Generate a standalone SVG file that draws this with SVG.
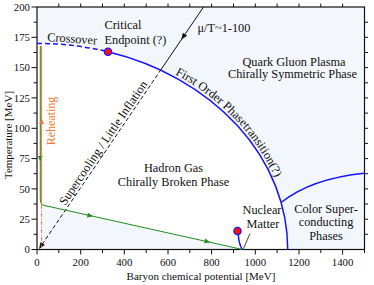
<svg xmlns="http://www.w3.org/2000/svg" width="374" height="285" viewBox="0 0 374 285">
<style>
text{font-family:"Liberation Serif","Times New Roman",serif;fill:#111}
.lbl{font-size:12.3px}
.tk{font-size:10.8px}
.ax{font-size:11px}
.mid{text-anchor:middle}
.end{text-anchor:end}
.blue{fill:none;stroke:#1414ff;stroke-width:1.5}
.tint{fill:#f3f6fb;stroke:none}
.frame{fill:none;stroke:#111;stroke-width:1.2}
.ticks{fill:none;stroke:#111;stroke-width:1}
</style>
<defs>
<path id="garrow" d="M3,0 L-2.6,-2.4 L-2.6,2.4 Z" fill="#1e8c1e"/>
<path id="oarrow" d="M3,0 L-2.6,-2.4 L-2.6,2.4 Z" fill="#f07a30"/>
<path id="karrow" d="M3.5,0 L-3,-2.6 L-3,2.6 Z" fill="#111"/>
<path id="textarc" d="M175,74.2 A253.5,209 0 0 1 290.5,249.5"/>
</defs>

<g id="background">
<path class="tint" d="M37,7 H364.5 V249.5 H287.7 A250.7,206.1 0 0 0 37,43.4 Z"/>
<path class="tint" d="M40.3,205 Q40.3,205.8 46,205.8 L242.5,249.5 L40.3,249.5 Z"/>
</g>

<g id="axes">
<rect class="frame" x="37" y="7" width="327.5" height="242.5"/>
<path class="ticks" d="M31.5,249.5H37M33.5,234.3H37M31.5,219.2H37M33.5,204H37M31.5,188.9H37M33.5,173.7H37M31.5,158.6H37M33.5,143.4H37M31.5,128.3H37M33.5,113.1H37M31.5,97.9H37M33.5,82.8H37M31.5,67.6H37M33.5,52.5H37M31.5,37.3H37M33.5,22.2H37M31.5,7H37"/>
<path class="ticks" d="M364.5,234.3H368M364.5,219.2H368M364.5,204H368M364.5,188.9H368M364.5,173.7H368M364.5,158.6H368M364.5,143.4H368M364.5,128.3H368M364.5,113.1H368M364.5,97.9H368M364.5,82.8H368M364.5,67.6H368M364.5,52.5H368M364.5,37.3H368M364.5,22.2H368"/>
<path class="ticks" d="M58.8,7V3.5M80.7,7V3.5M102.5,7V3.5M124.3,7V3.5M146.2,7V3.5M168,7V3.5M189.8,7V3.5M211.6,7V3.5M233.5,7V3.5M255.3,7V3.5M277.1,7V3.5M299,7V3.5M320.8,7V3.5M342.6,7V3.5"/>
<path class="ticks" d="M37,249.5V254.5M58.8,249.5V253M80.7,249.5V254.5M102.5,249.5V253M124.3,249.5V254.5M146.2,249.5V253M168,249.5V254.5M189.8,249.5V253M211.6,249.5V254.5M233.5,249.5V253M255.3,249.5V254.5M277.1,249.5V253M299,249.5V254.5M320.8,249.5V253M342.6,249.5V254.5M364.5,249.5V253"/>
<g class="tk end">
<text x="30" y="253.3">0</text>
<text x="30" y="223">25</text>
<text x="30" y="192.7">50</text>
<text x="30" y="162.4">75</text>
<text x="30" y="132.1">100</text>
<text x="30" y="101.7">125</text>
<text x="30" y="71.4">150</text>
<text x="30" y="41.1">175</text>
<text x="30" y="10.8">200</text>
</g>
<g class="tk mid">
<text x="37" y="266">0</text>
<text x="80.7" y="266">200</text>
<text x="124.3" y="266">400</text>
<text x="168" y="266">600</text>
<text x="211.6" y="266">800</text>
<text x="255.3" y="266">1000</text>
<text x="299" y="266">1200</text>
<text x="342.6" y="266">1400</text>
</g>
<text class="ax mid" x="201" y="279.5">Baryon chemical potential [MeV]</text>
<text class="ax mid" transform="translate(11.5,135) rotate(-90)">Temperature [MeV]</text>
</g>

<g id="connectors">
<path class="blue" stroke-dasharray="5,3" d="M37,43.4 A250.7,206.1 0 0 1 108,51.8"/>
<path class="blue" d="M108,51.8 A250.7,206.1 0 0 1 287.7,249.5"/>
<path class="blue" d="M281.1,202.5 Q311.4,178.6 364.5,173.3"/>
<path class="blue" d="M238.2,234.5 Q239,245 242.5,249.5"/>
<path fill="none" stroke="#111" stroke-width="0.8" d="M243.5,248.5 L250,233.5"/>
<path fill="none" stroke="#111" stroke-width="1" stroke-dasharray="4,2.5" d="M42,244.6 L160.6,70.2"/>
<path fill="none" stroke="#111" stroke-width="1" d="M160.6,70.2 L203.5,7"/>
<use href="#karrow" transform="translate(41,246) rotate(124.2)"/>
<use href="#karrow" transform="translate(183.3,36.7) rotate(124.2)"/>
<path fill="none" stroke="#1e8c1e" stroke-width="1" d="M40.3,46 V199 Q40.3,205.8 46,205.8 L242.5,249.5"/>
<use href="#garrow" transform="translate(40.3,158.5) rotate(90)"/>
<use href="#garrow" transform="translate(90,215.6) rotate(12.5)"/>
<use href="#garrow" transform="translate(207.3,241.5) rotate(12.5)"/>
<path fill="none" stroke="#f07a30" stroke-width="1" d="M41.6,46 V205"/>
<path fill="none" stroke="#f07a30" stroke-width="1" stroke-dasharray="4,1.5,1,1.5" d="M41.6,205 V247.5"/>
<use href="#oarrow" transform="translate(41.6,121.5) rotate(-90)"/>
</g>

<g id="critical-endpoint">
<circle cx="108" cy="51.8" r="3.6" fill="#ff1010" stroke="#1414ff" stroke-width="1.3"/>
<text class="lbl" x="104.5" y="29.3">Critical</text>
<text class="lbl" x="104.5" y="44.3">Endpoint (?)</text>
</g>

<g id="crossover">
<text class="lbl" transform="translate(47,41) rotate(4)">Crossover</text>
</g>

<g id="first-order">
<text class="lbl"><textPath href="#textarc">First Order Phasetransition(?)</textPath></text>
</g>

<g id="qgp">
<text class="lbl mid" x="294" y="65.5">Quark Gluon Plasma</text>
<text class="lbl mid" x="292.5" y="78">Chirally Symmetric Phase</text>
</g>

<g id="hadron-gas">
<text class="lbl mid" x="173.5" y="172.3">Hadron Gas</text>
<text class="lbl mid" x="173.5" y="186">Chirally Broken Phase</text>
</g>

<g id="color-superconducting">
<text class="lbl mid" x="326" y="212.7">Color Super-</text>
<text class="lbl mid" x="326" y="226">conducting</text>
<text class="lbl mid" x="326" y="240">Phases</text>
</g>

<g id="nuclear-matter">
<circle cx="237.5" cy="231" r="3.6" fill="#ff1010" stroke="#1414ff" stroke-width="1.3"/>
<text class="lbl mid" x="262" y="214">Nuclear</text>
<text class="lbl mid" x="263" y="227.5">Matter</text>
</g>

<g id="mu-over-t">
<text class="lbl" x="197.5" y="31.5">μ/T~1-100</text>
</g>

<g id="supercooling">
<text class="lbl mid" transform="translate(106.5,145.1) rotate(-55.8)">Supercooling / Little Inflation</text>
</g>

<g id="reheating">
<text class="lbl mid" style="fill:#f07a30;font-size:12px" transform="translate(55,121) rotate(-90)">Reheating</text>
</g>
</svg>
